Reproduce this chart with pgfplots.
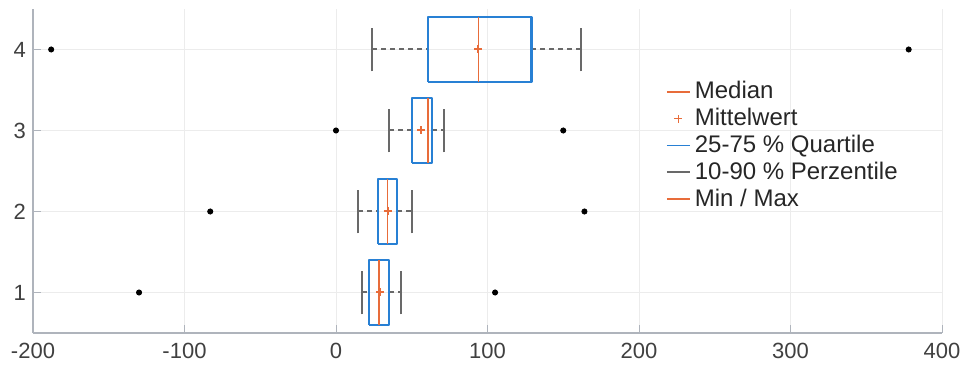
\documentclass[border=0pt]{standalone}
\usepackage{pgfplots}
\pgfplotsset{compat=1.18}
\usepackage{fontspec}
\setmainfont{Liberation Sans}
\definecolor{mblue}{RGB}{40,128,212}
\definecolor{morange}{RGB}{232,108,58}
\definecolor{mgray}{RGB}{105,105,105}
\definecolor{axgray}{RGB}{175,180,188}
\definecolor{gridc}{RGB}{236,236,236}
\definecolor{labc}{RGB}{64,64,64}
\begin{document}
\begin{tikzpicture}
\begin{axis}[
  scale only axis, width=454.5pt, height=162pt,
  xmin=-200, xmax=400, ymin=0.5, ymax=4.5,
  axis lines*=left,
  axis line style={axgray, line width=0.6pt},
  xtick={-200,-100,0,100,200,300,400},
  xticklabels={-200,-100,0,100,200,300,400},
  ytick={1,2,3,4}, yticklabels={1,2,3,4},
  tick align=inside, major tick length=4pt,
  tick style={axgray, line width=0.5pt},
  grid=major, major grid style={gridc, line width=0.4pt},
  tick label style={font=\fontsize{11}{13}\selectfont, text=labc},
  xticklabel style={yshift=-1.5pt},
  legend cell align=left,
  legend style={draw=none, fill=none, at={(0.696,0.79)}, anchor=north west,
    font=\fontsize{12}{14}\selectfont, text=black!85, inner sep=0pt, row sep=-0.75pt},
  legend image code/.code={\draw[#1] (0pt,0pt) -- (11.5pt,0pt);},
  clip=false,
]
\addlegendimage{morange, line width=0.9pt}
\addlegendentry{Median}
\addlegendimage{legend image code/.code={\draw[morange, line width=0.9pt] (3.75pt,0pt)--(7.75pt,0pt) (5.75pt,-2pt)--(5.75pt,2pt);}}
\addlegendentry{Mittelwert}
\addlegendimage{mblue, line width=0.9pt}
\addlegendentry{25-75 \% Quartile}
\addlegendimage{mgray, line width=0.9pt}
\addlegendentry{10-90 \% Perzentile}
\addlegendimage{morange, line width=0.9pt}
\addlegendentry{Min / Max}

% whiskers (dashed)
\addplot[mgray, line width=1pt, dash pattern=on 2.5pt off 2pt, forget plot] coordinates {(17,1)(22,1)};
\addplot[mgray, line width=1pt, dash pattern=on 2.5pt off 2pt, forget plot] coordinates {(35,1)(43,1)};
\addplot[mgray, line width=1pt, dash pattern=on 2.5pt off 2pt, forget plot] coordinates {(14.5,2)(27.5,2)};
\addplot[mgray, line width=1pt, dash pattern=on 2.5pt off 2pt, forget plot] coordinates {(40.5,2)(50,2)};
\addplot[mgray, line width=1pt, dash pattern=on 2.5pt off 2pt, forget plot] coordinates {(35,3)(50,3)};
\addplot[mgray, line width=1pt, dash pattern=on 2.5pt off 2pt, forget plot] coordinates {(63.5,3)(71,3)};
\addplot[mgray, line width=1pt, dash pattern=on 2.5pt off 2pt, forget plot] coordinates {(24,4)(60.5,4)};
\addplot[mgray, line width=1pt, dash pattern=on 2.5pt off 2pt, forget plot] coordinates {(129,4)(162,4)};
% caps
\addplot[mgray, line width=1pt, forget plot] coordinates {(17,0.73)(17,1.27)};
\addplot[mgray, line width=1pt, forget plot] coordinates {(43,0.73)(43,1.27)};
\addplot[mgray, line width=1pt, forget plot] coordinates {(14.5,1.73)(14.5,2.27)};
\addplot[mgray, line width=1pt, forget plot] coordinates {(50,1.73)(50,2.27)};
\addplot[mgray, line width=1pt, forget plot] coordinates {(35,2.73)(35,3.27)};
\addplot[mgray, line width=1pt, forget plot] coordinates {(71,2.73)(71,3.27)};
\addplot[mgray, line width=1pt, forget plot] coordinates {(24,3.73)(24,4.27)};
\addplot[mgray, line width=1pt, forget plot] coordinates {(162,3.73)(162,4.27)};
% boxes
\addplot[mblue, line width=1.1pt, line join=round, forget plot] coordinates {(22,0.6)(35,0.6)(35,1.4)(22,1.4)(22,0.6)};
\addplot[mblue, line width=1.1pt, line join=round, forget plot] coordinates {(27.5,1.6)(40.5,1.6)(40.5,2.4)(27.5,2.4)(27.5,1.6)};
\addplot[mblue, line width=1.1pt, line join=round, forget plot] coordinates {(50,2.6)(63.5,2.6)(63.5,3.4)(50,3.4)(50,2.6)};
\addplot[mblue, line width=1.1pt, line join=round, forget plot] coordinates {(60.5,3.6)(129,3.6)(129,4.4)(60.5,4.4)(60.5,3.6)};
% medians
\addplot[morange, line width=0.9pt, forget plot] coordinates {(28.5,0.6)(28.5,1.4)};
\addplot[morange, line width=0.9pt, forget plot] coordinates {(34,1.6)(34,2.4)};
\addplot[morange, line width=0.9pt, forget plot] coordinates {(60.5,2.6)(60.5,3.4)};
\addplot[morange, line width=0.9pt, forget plot] coordinates {(94,3.6)(94,4.4)};
% means
\addplot[only marks, mark=+, mark size=2pt, morange, line width=1pt, forget plot] coordinates {(29,1)(34,2)(56,3)(94,4)};
% min / max
\addplot[only marks, mark=*, mark size=1.3pt, black, forget plot] coordinates {(-130,1)(105,1)(-83,2)(164,2)(0,3)(150,3)(-188,4)(378,4)};
\end{axis}
\pgfresetboundingbox
\path (current axis.south west) ++(-16.5pt,-17.5pt) rectangle ([shift={(10pt,4.5pt)}]current axis.north east);
\end{tikzpicture}
\end{document}
